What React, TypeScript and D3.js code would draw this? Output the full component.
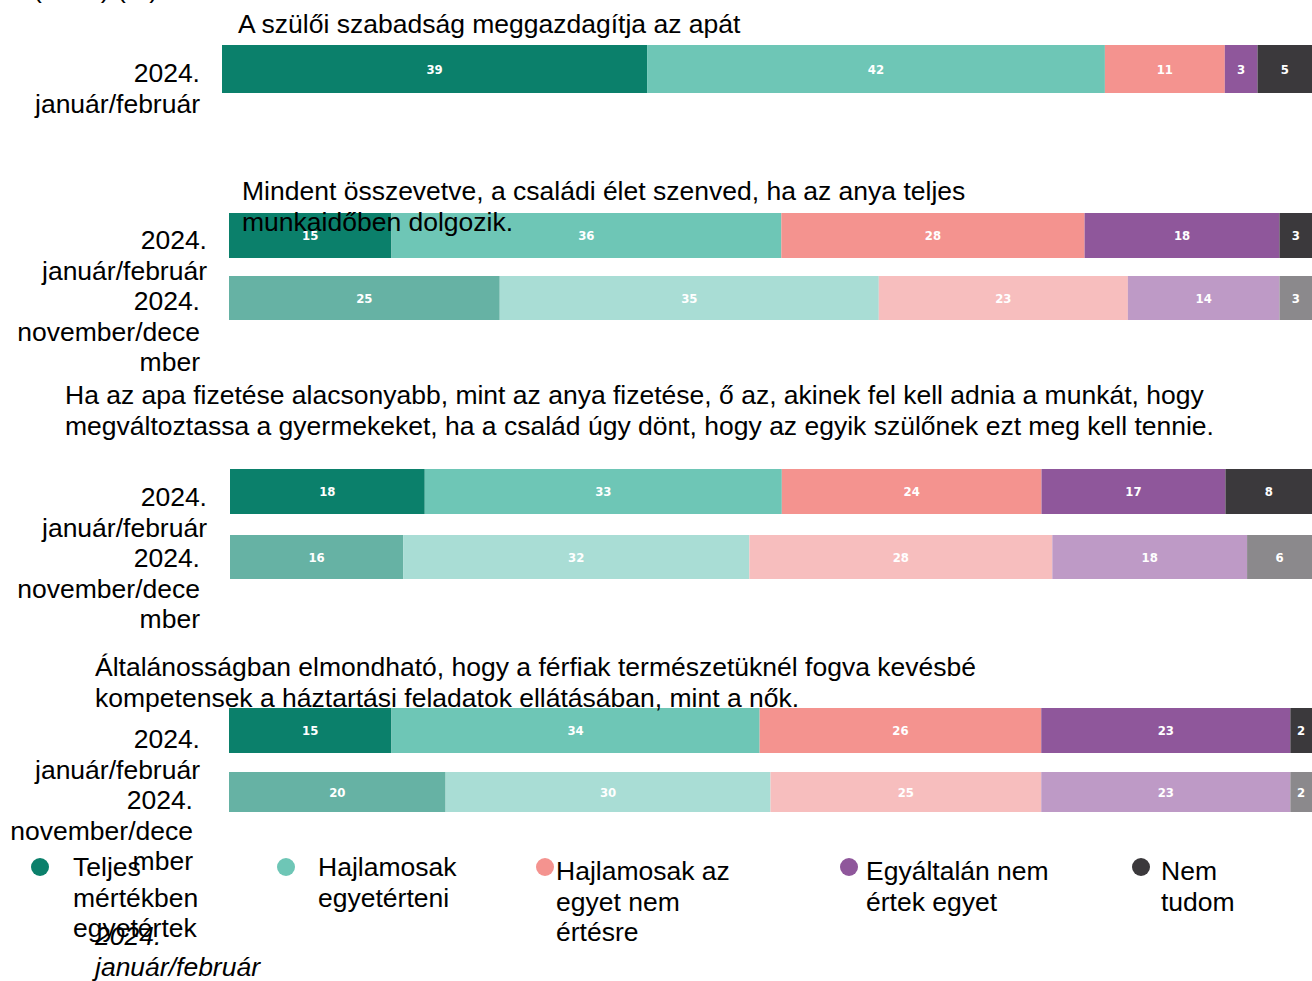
import React from "react";
import { scaleLinear, scaleOrdinal, stack } from "d3";

// answer categories (legend order)
const answers = ["full", "tend", "tendNot", "notAtAll", "dk"];
const legendLines = [
  ["Teljes", "mértékben", "egyetértek"],
  ["Hajlamosak", "egyetérteni"],
  ["Hajlamosak az", "egyet nem", "értésre"],
  ["Egyáltalán nem", "értek egyet"],
  ["Nem", "tudom"],
];
const janColors = ["#0b806b", "#6ec6b6", "#f4938f", "#8f579b", "#3b393c"];
const novColors = ["#66b2a4", "#a9ddd5", "#f7bebe", "#be9ac6", "#8b898c"];

// questions
const q1Title = ["A szülői szabadság meggazdagítja az apát"];
const q2Title = ["Mindent összevetve, a családi élet szenved, ha az anya teljes", "munkaidőben dolgozik."];
const q3Title = [
  "Ha az apa fizetése alacsonyabb, mint az anya fizetése, ő az, akinek fel kell adnia a munkát, hogy",
  "megváltoztassa a gyermekeket, ha a család úgy dönt, hogy az egyik szülőnek ezt meg kell tennie.",
];
const q4Title = [
  "Általánosságban elmondható, hogy a férfiak természetüknél fogva kevésbé",
  "kompetensek a háztartási feladatok ellátásában, mint a nők.",
];

// values (%), jan/feb and nov/dec waves
const q1Jan = [39, 42, 11, 3, 5];
const q2Jan = [15, 36, 28, 18, 3];
const q2Nov = [25, 35, 23, 14, 3];
const q3Jan = [18, 33, 24, 17, 8];
const q3Nov = [16, 32, 28, 18, 6];
const q4Jan = [15, 34, 26, 23, 2];
const q4Nov = [20, 30, 25, 23, 2];

const waveJan = ["2024.", "január/február"];
const waveNov = ["2024.", "november/dece", "mber"];

const FONT = "'Liberation Sans', Arial, sans-serif";
const FS = 26.5;
const LH = 30.6;
const W = 1312;
const H = 981;

const panels = [
  {
    title: q1Title, tx: 238, ty: 33, x0: 222,
    rows: [{ vals: q1Jan, colors: janColors, y: 45, h: 48, label: waveJan, lx: 200, ly: 82 }],
  },
  {
    title: q2Title, tx: 242, ty: 200, x0: 229,
    rows: [
      { vals: q2Jan, colors: janColors, y: 213, h: 45, label: waveJan, lx: 207, ly: 249 },
      { vals: q2Nov, colors: novColors, y: 276, h: 44, label: waveNov, lx: 200, ly: 310 },
    ],
  },
  {
    title: q3Title, tx: 65, ty: 404, x0: 230,
    rows: [
      { vals: q3Jan, colors: janColors, y: 469, h: 45, label: waveJan, lx: 207, ly: 506 },
      { vals: q3Nov, colors: novColors, y: 535, h: 44, label: waveNov, lx: 200, ly: 567 },
    ],
  },
  {
    title: q4Title, tx: 95, ty: 676, x0: 229,
    rows: [
      { vals: q4Jan, colors: janColors, y: 708, h: 45, label: waveJan, lx: 200, ly: 748 },
      { vals: q4Nov, colors: novColors, y: 772, h: 40, label: waveNov, lx: 193, ly: 809 },
    ],
  },
];

const legendX = [40, 286, 545, 849, 1141];
const legendTextX = [73, 318, 556, 866, 1161];
const legendTextY = [876, 876, 880, 880, 880];

function Row({ row, x }) {
  const datum = Object.fromEntries(answers.map((a, i) => [a, row.vals[i]]));
  const series = stack().keys(answers)([datum]);
  const color = scaleOrdinal().domain(answers).range(row.colors);
  return (
    <g>
      {series.map((s) => {
        const [a, b] = s[0];
        return (
          <g key={s.key}>
            <rect x={x(a)} y={row.y} width={x(b) - x(a)} height={row.h} fill={color(s.key)} />
            <text
              x={(x(a) + x(b)) / 2}
              y={row.y + row.h / 2}
              dy="0.36em"
              textAnchor="middle"
              fill="#fff"
              fontSize={13}
              fontWeight="bold"
              fontFamily="'DejaVu Sans Condensed', 'DejaVu Sans', sans-serif"
            >
              {b - a}
            </text>
          </g>
        );
      })}
      <text textAnchor="end" fontSize={FS} fontFamily={FONT} fill="#000">
        {row.label.map((l, i) => (
          <tspan key={i} x={row.lx} y={row.ly + i * LH}>{l}</tspan>
        ))}
      </text>
    </g>
  );
}

export default function App() {
  return (
    <svg
      width={W}
      height={H}
      style={{ position: "absolute", left: 0, top: 0, background: "#fff" }}
    >
      <rect width={W} height={H} fill="#fff" />
      <text x={33} y={-2} fontSize={FS} fontFamily={FONT}>(2024) (%)</text>
      {panels.map((p, pi) => {
        const x = scaleLinear().domain([0, 100]).range([p.x0, W]);
        return (
          <g key={pi}>
            {p.rows.map((r, ri) => (
              <Row key={ri} row={r} x={x} />
            ))}
            <text fontSize={FS} fontFamily={FONT} fill="#000">
              {p.title.map((t, i) => (
                <tspan key={i} x={p.tx} y={p.ty + i * LH}>{t}</tspan>
              ))}
            </text>
          </g>
        );
      })}
      {answers.map((a, i) => (
        <g key={a}>
          <circle cx={legendX[i]} cy={867} r={9} fill={janColors[i]} />
          <text fontSize={FS} fontFamily={FONT} fill="#000">
            {legendLines[i].map((l, j) => (
              <tspan key={j} x={legendTextX[i]} y={legendTextY[i] + j * LH}>{l}</tspan>
            ))}
          </text>
        </g>
      ))}
      <text fontSize={FS} fontFamily={FONT} fontStyle="italic" fill="#000">
        <tspan x={95} y={945}>2024.</tspan>
        <tspan x={95} y={945 + LH}>január/február</tspan>
      </text>
    </svg>
  );
}
